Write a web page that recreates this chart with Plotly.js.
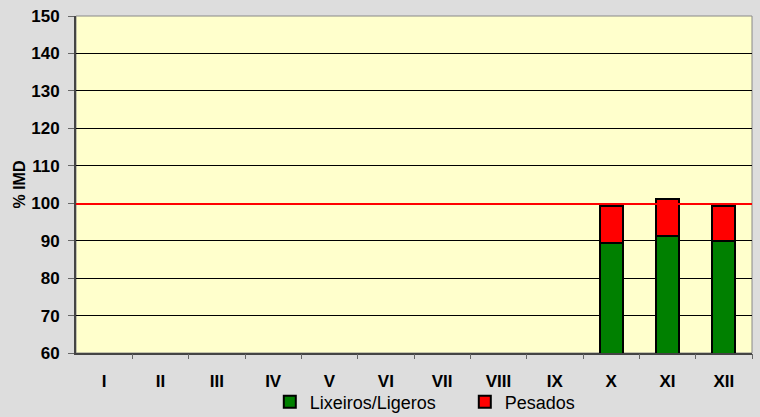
<!DOCTYPE html>
<html><head><meta charset="utf-8">
<script src="https://cdn.plot.ly/plotly-3.0.1.min.js"></script>
<style>body{margin:0;background:#DDDDDD}#c{width:760px;height:417px}</style>
</head><body><div id="c"></div>
<script>
const months = ['I','II','III','IV','V','VI','VII','VIII','IX','X','XI','XII'];
const ligeros = [null,null,null,null,null,null,null,null,null,89.5,91.2,89.8];
const pesados = [null,null,null,null,null,null,null,null,null,9.8,9.9,9.5];
const referenceLine = 99.8;
const yTicks = [60,70,80,90,100,110,120,130,140,150];

const traces = [
  {type:'bar', x:months, y:ligeros, name:'Lixeiros/Ligeros',
   marker:{color:'#008000', line:{color:'#000000', width:2}}},
  {type:'bar', x:months, y:pesados, name:'Pesados',
   marker:{color:'#FF0000', line:{color:'#000000', width:2}}}
];
const layout = {
  width:760, height:417,
  barmode:'stack', bargap:0.59,
  paper_bgcolor:'#DDDDDD', plot_bgcolor:'#FFFFCC',
  margin:{l:76, r:8, t:16, b:64, autoexpand:false},
  font:{family:'Liberation Sans, Arial, sans-serif', color:'#000'},
  xaxis:{type:'category', tickfont:{size:17, weight:'bold'},
    ticks:'', showline:true, linecolor:'#444', linewidth:2, mirror:false,
    showgrid:false, automargin:false, ticklabelstandoff:12},
  yaxis:{range:[60,150], tickvals:yTicks, ticks:'outside', ticklen:6, tickcolor:'#666',
    tickfont:{size:17, weight:'bold'}, showline:true, linecolor:'#444', linewidth:2,
    gridcolor:'#000', gridwidth:1, zeroline:false, automargin:false, ticklabelstandoff:5,
    title:{text:'% IMD', font:{size:16, weight:'bold'}, standoff:2}},
  legend:{orientation:'h', x:0.355, xref:'container', xanchor:'left', yref:'container', y:0.036, yanchor:'middle',
    font:{size:18}, bgcolor:'rgba(0,0,0,0)', traceorder:'normal', entrywidth:150, itemwidth:30},
  showlegend:true,
  shapes:[
    {type:'line', xref:'paper', x0:0, x1:1, yref:'y', y0:referenceLine, y1:referenceLine,
     line:{color:'#FF0000', width:2}},
    {type:'rect', xref:'paper', yref:'paper', x0:0, x1:1, y0:0, y1:1,
     line:{color:'#888', width:1}, layer:'below'}
  ]
};
layout.xaxis2 = {overlaying:'x', type:'linear', range:[-0.5,11.5], tickvals:[0.5,1.5,2.5,3.5,4.5,5.5,6.5,7.5,8.5,9.5,10.5,11.5],
  ticks:'outside', ticklen:5, tickcolor:'#666', showticklabels:false, showgrid:false, zeroline:false, side:'bottom', anchor:'y'};
traces.push({type:'scatter', x:[-0.5], y:[null], xaxis:'x2', showlegend:false, hoverinfo:'skip'});
Plotly.newPlot('c', traces, layout, {displayModeBar:false, staticPlot:true});
</script></body></html>
